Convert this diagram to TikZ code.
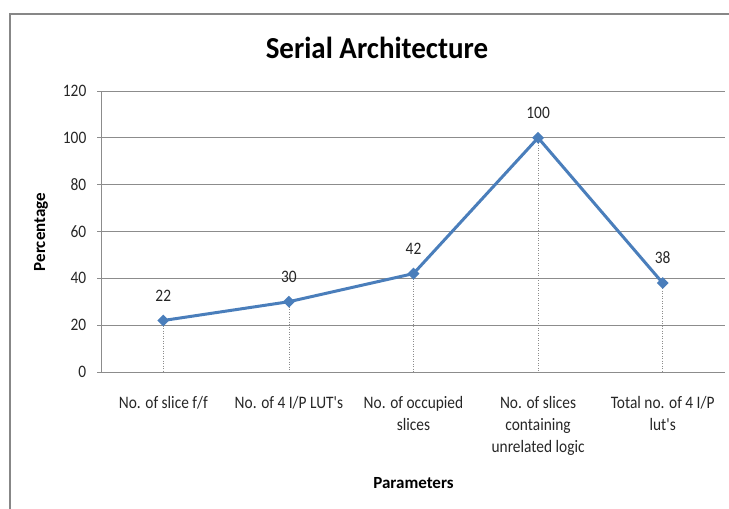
\documentclass[tikz,border=0pt]{standalone}
\usepackage{fontspec}
\setmainfont{Carlito}
\newfontfamily\chartfont[FakeStretch=0.88]{Carlito}
\newfontfamily\titlefont[FakeStretch=0.95]{Carlito}
\usetikzlibrary{shapes.geometric}
\definecolor{series}{HTML}{4A7EBB}
\definecolor{gridgray}{HTML}{8C8C8C}
\definecolor{framegray}{HTML}{878787}
\tikzset{
  gridline/.style={draw=gridgray, line width=0.9pt},
  dropline/.style={draw=gridgray, line width=0.5pt, dotted},
  ticklabel/.style={anchor=east, font=\chartfont\fontsize{17.5}{17.5}\selectfont, text=black!85, inner sep=0pt},
  catlabel/.style={anchor=north, align=center, font=\chartfont\fontsize{17.5}{22}\selectfont, text=black!85, inner sep=0pt},
  vallabel/.style={font=\chartfont\fontsize{17.5}{17.5}\selectfont, text=black!85, inner sep=0pt},
  axistitle/.style={font=\bfseries\fontsize{17}{17}\selectfont, inner sep=0pt},
  marker/.style={diamond, fill=series, minimum size=12pt, inner sep=0pt},
  seriesline/.style={draw=series, line width=3pt, line join=round}
}
\begin{document}
\begin{tikzpicture}[x=1pt, y=-1pt]
\useasboundingbox (0,0) rectangle (729,509);
% chart frame (left and top edges)
\draw[draw=framegray, line width=2pt] (9.5,510) -- (9.5,14) -- (730,14);
% title
\node[font=\titlefont\bfseries\fontsize{30.5}{30.5}\selectfont, inner sep=0pt] (title) at (377,48) {Serial Architecture};
% horizontal gridlines and y tick labels
\foreach \v in {0,20,...,120} {
  \pgfmathsetmacro{\yy}{372-\v*2.342}
  \draw[gridline] (97,\yy) -- (725,\yy);
  \node[ticklabel] (tick\v) at (86.5,\yy) {\v};
}
% value axis
\draw[gridline] (101,91) -- (101,372);
% data points
\coordinate (p1) at (163.3,320.5);
\coordinate (p2) at (288.9,301.7);
\coordinate (p3) at (413.5,273.6);
\coordinate (p4) at (538.1,137.8);
\coordinate (p5) at (662.7,283.0);
% drop lines
\foreach \i in {1,...,5} {
  \coordinate (base\i) at (p\i |- tick0.east);
  \draw[dropline] (p\i) -- (base\i);
}
% series line and markers
\draw[seriesline] (p1) -- (p2) -- (p3) -- (p4) -- (p5);
\foreach \i in {1,...,5} { \node[marker] (m\i) at (p\i) {}; }
% value labels
\node[vallabel] (v1) at ([yshift=25pt]p1) {22};
\node[vallabel] (v2) at ([yshift=25pt]p2) {30};
\node[vallabel] (v3) at ([yshift=25pt]p3) {42};
\node[vallabel] (v4) at ([yshift=25pt]p4) {100};
\node[vallabel] (v5) at ([yshift=25pt]p5) {38};
% category labels
\node[catlabel] (c1) at (163.3,396.5) {No. of slice f/f};
\node[catlabel] (c2) at (288.9,396.5) {No. of 4 I/P LUT's};
\node[catlabel] (c3) at (413.5,396.5) {No. of occupied\\slices};
\node[catlabel] (c4) at (538.1,396.5) {No. of slices\\containing\\unrelated logic};
\node[catlabel] (c5) at (662.7,396.5) {Total no. of 4 I/P\\lut's};
% axis titles
\node[axistitle, rotate=90] (ytitle) at (41,232) {Percentage};
\node[axistitle] (xtitle) at (413.5,483) {Parameters};
\end{tikzpicture}
\end{document}
